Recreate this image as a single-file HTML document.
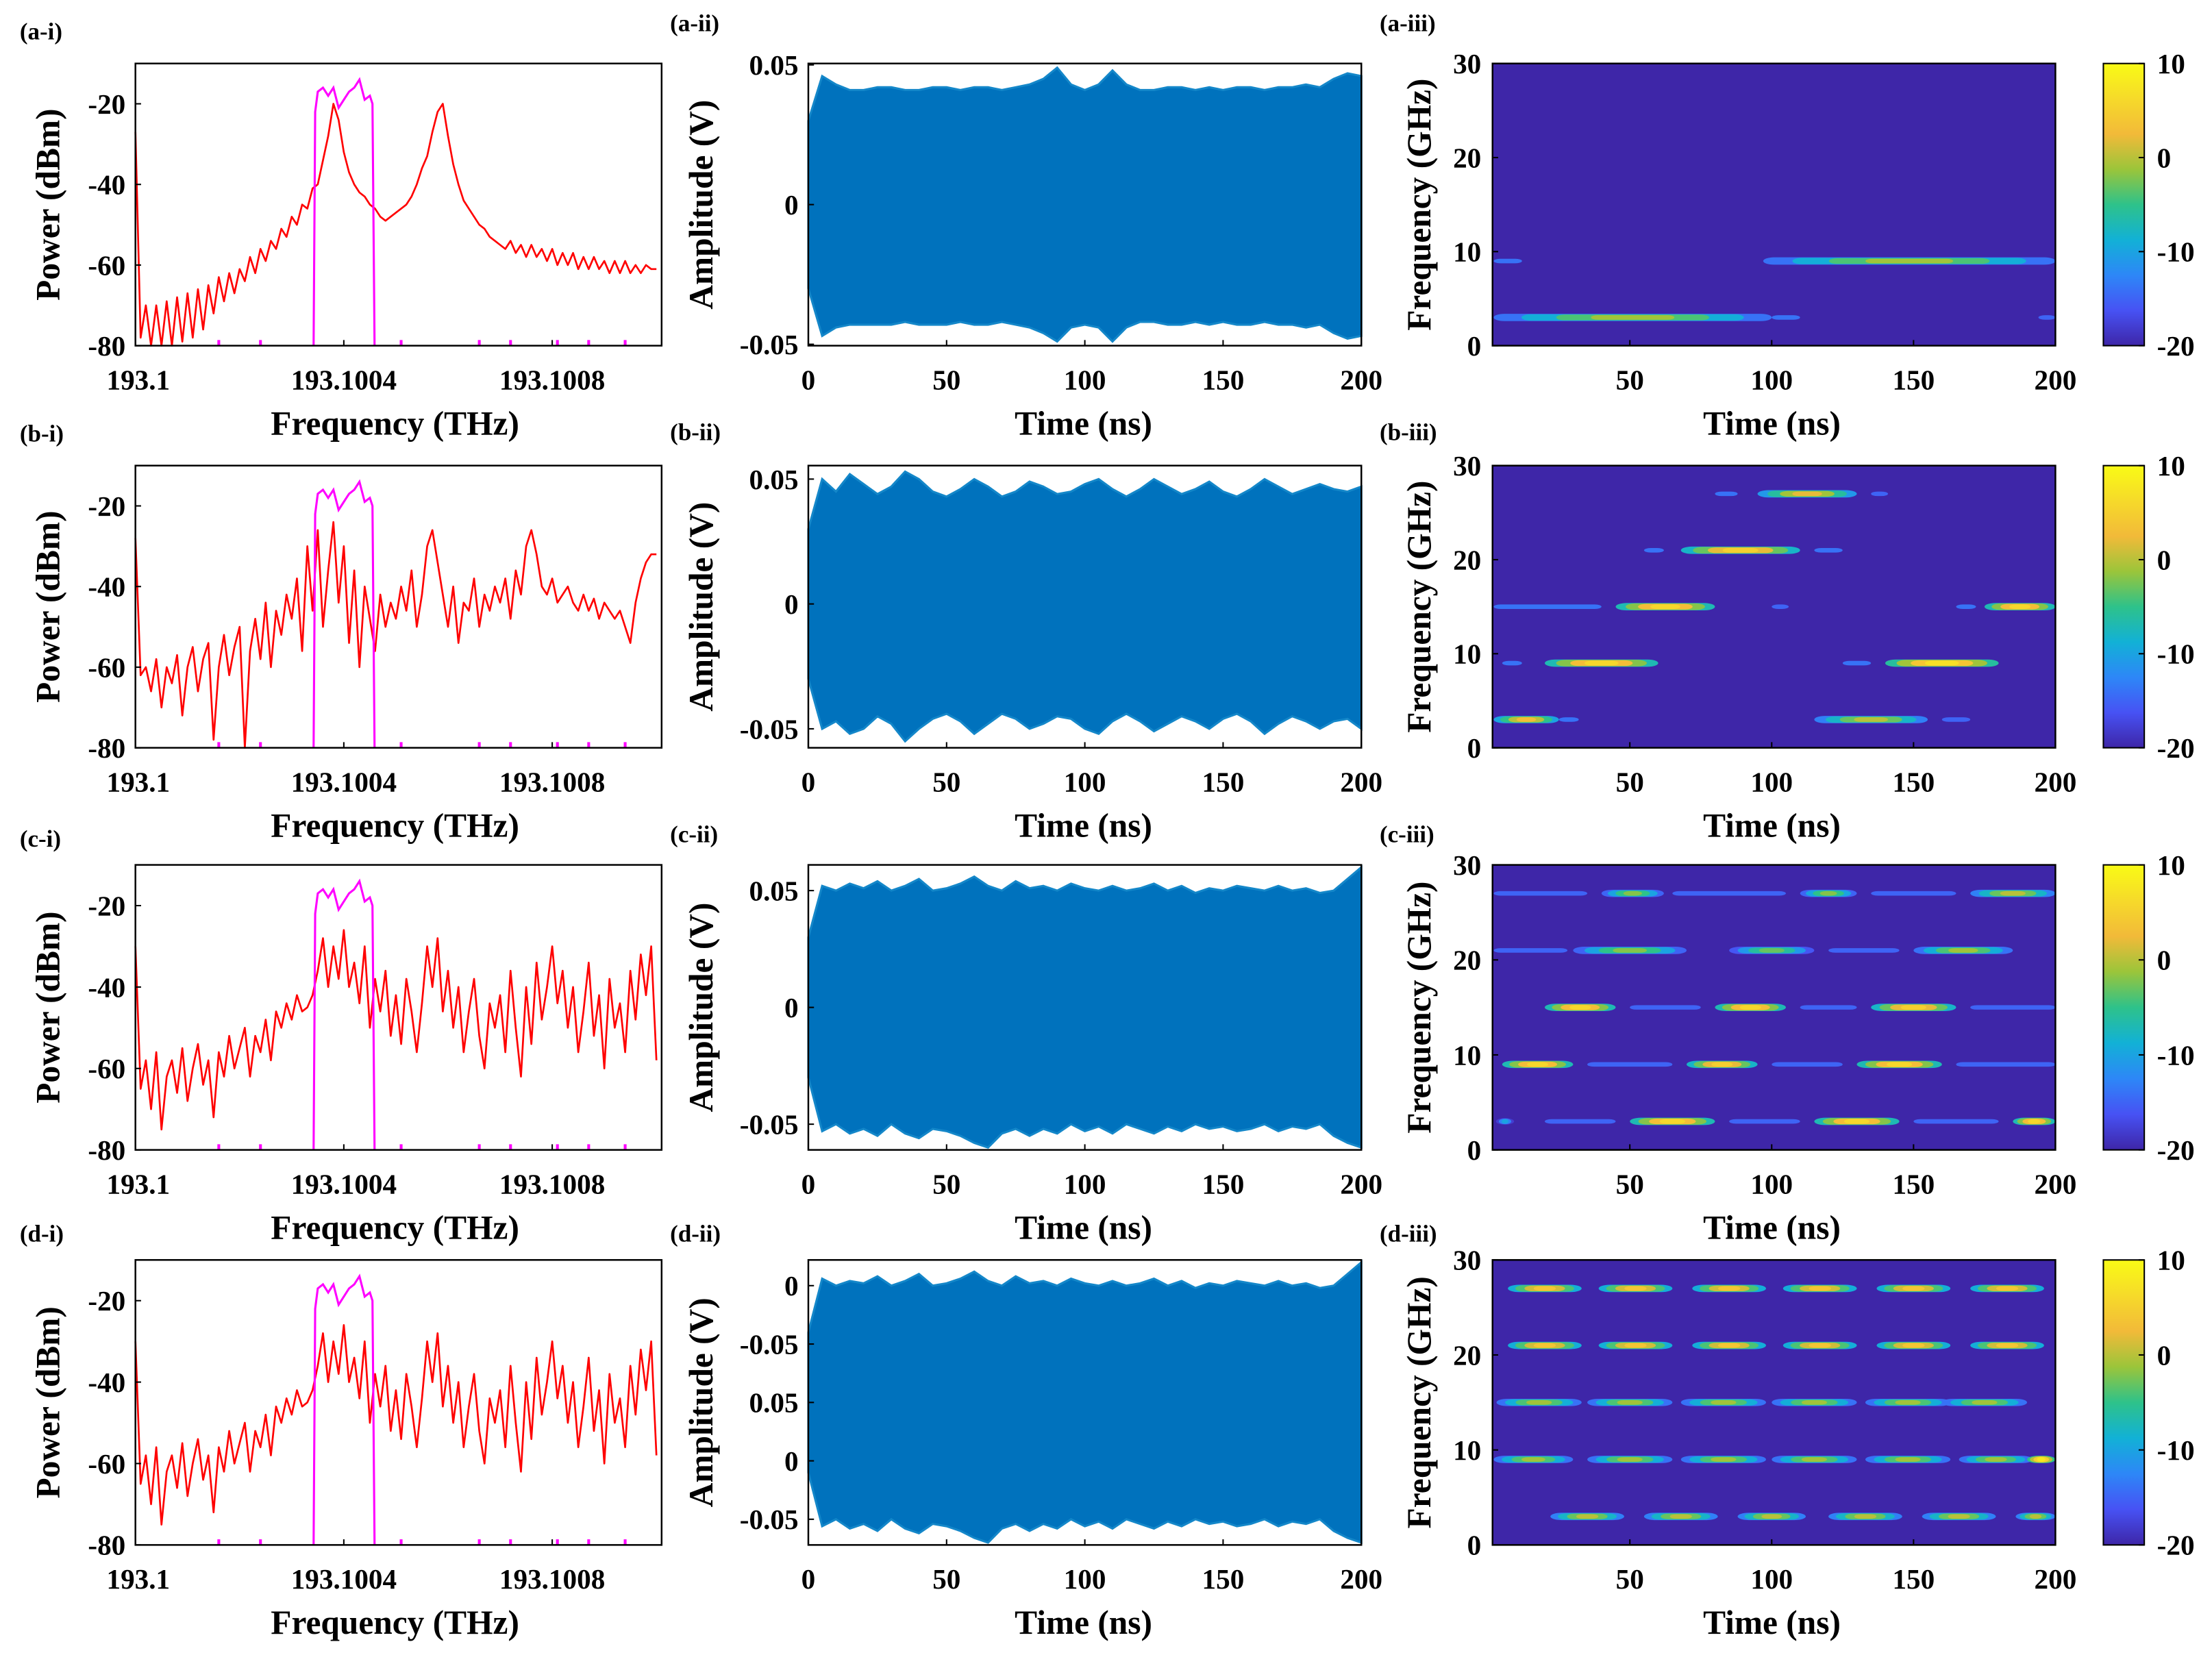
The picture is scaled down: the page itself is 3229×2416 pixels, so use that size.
<!DOCTYPE html>
<html><head><meta charset="utf-8">
<style>
html,body{margin:0;padding:0;background:#fff;}
svg{display:block;}
text{font-family:"Liberation Serif","DejaVu Serif",serif;font-weight:bold;fill:#000;}
</style></head>
<body>
<svg id="fig" xmlns="http://www.w3.org/2000/svg" width="3229" height="2416" viewBox="0 0 1568 1173" preserveAspectRatio="none">
<defs>
<linearGradient id="parulaGrad" x1="0" y1="1" x2="0" y2="0">
<stop offset="0" stop-color="#3E26A8"/><stop offset="0.125" stop-color="#4752F4"/><stop offset="0.25" stop-color="#2D87F7"/><stop offset="0.375" stop-color="#12B1D6"/><stop offset="0.5" stop-color="#2EC28A"/><stop offset="0.625" stop-color="#9BC53A"/><stop offset="0.75" stop-color="#F2BA39"/><stop offset="0.875" stop-color="#F6DA2A"/><stop offset="1" stop-color="#F9FB15"/>
</linearGradient>
</defs>
</svg>
<script>
// ---------- DATA ----------
const specFreqStart = 193.1, specFreqStep = 0.00001;
const specPowA = [-27,-78,-70,-80,-70,-80,-69,-80,-68,-79,-67,-78,-66,-76,-65,-72,-63,-69,-62,-67,-61,-64,-58,-62,-56,-59,-54,-56,-51,-53,-48,-50,-45,-46,-41,-40,-34,-28,-20,-24,-32,-37,-40,-42,-43,-45,-46,-48,-49,-48,-47,-46,-45,-43,-40,-36,-33,-27,-22,-20,-28,-35,-40,-44,-46,-48,-50,-51,-53,-54,-55,-56,-54,-57,-55,-58,-55,-58,-56,-59,-56,-60,-57,-60,-57,-61,-58,-61,-58,-61,-59,-62,-59,-62,-59,-62,-60,-62,-60,-61,-61];
const specPowB = [-28,-62,-60,-66,-58,-70,-60,-64,-57,-72,-60,-55,-66,-58,-54,-78,-60,-52,-62,-55,-50,-80,-56,-48,-58,-44,-60,-46,-52,-42,-48,-38,-56,-30,-46,-26,-50,-36,-24,-44,-30,-54,-36,-60,-40,-48,-56,-42,-50,-44,-48,-40,-46,-36,-50,-42,-30,-26,-34,-42,-50,-40,-54,-44,-46,-38,-50,-42,-46,-40,-44,-38,-48,-36,-42,-30,-26,-32,-40,-42,-38,-44,-42,-40,-44,-46,-42,-46,-43,-48,-44,-46,-48,-46,-50,-54,-44,-38,-34,-32,-32];
const specPowC = [-30,-65,-58,-70,-56,-75,-62,-58,-66,-55,-68,-60,-54,-64,-58,-72,-56,-62,-52,-60,-55,-50,-62,-52,-56,-48,-58,-46,-50,-44,-48,-42,-46,-45,-42,-36,-28,-40,-30,-38,-26,-40,-34,-44,-30,-50,-38,-46,-36,-52,-42,-54,-38,-46,-56,-44,-30,-40,-28,-46,-36,-50,-40,-56,-46,-38,-52,-60,-44,-50,-42,-56,-36,-50,-62,-40,-54,-34,-48,-40,-30,-44,-36,-50,-40,-56,-46,-34,-52,-42,-60,-38,-50,-44,-56,-36,-48,-32,-42,-30,-58];
const specPowD = [-30,-65,-58,-70,-56,-75,-62,-58,-66,-55,-68,-60,-54,-64,-58,-72,-56,-62,-52,-60,-55,-50,-62,-52,-56,-48,-58,-46,-50,-44,-48,-42,-46,-45,-42,-36,-28,-40,-30,-38,-26,-40,-34,-44,-30,-50,-38,-46,-36,-52,-42,-54,-38,-46,-56,-44,-30,-40,-28,-46,-36,-50,-40,-56,-46,-38,-52,-60,-44,-50,-42,-56,-36,-50,-62,-40,-54,-34,-48,-40,-30,-44,-36,-50,-40,-56,-46,-34,-52,-42,-60,-38,-50,-44,-56,-36,-48,-32,-42,-30,-58];
const filterFreq = [193.100342,193.100345,193.10035,193.10036,193.10037,193.10038,193.10039,193.1004,193.10041,193.10042,193.10043,193.10044,193.10045,193.100455,193.100459];
const filterPow = [-80,-22,-17,-16,-18,-16,-21,-19,-17,-16,-14,-19,-18,-20,-80];
const markerFreq = [193.10016,193.10024,193.10051,193.10066,193.10072,193.10081,193.10087,193.10094];
const specXTicks = [193.1,193.1004,193.1008];
const specXTickLabels = ["193.1","193.1004","193.1008"];
const specYTicks = [-80,-60,-40,-20];

const waveTimeStep = 5;
const waveUpA = [0.03,0.046,0.043,0.041,0.041,0.042,0.042,0.041,0.041,0.042,0.042,0.041,0.042,0.042,0.041,0.042,0.043,0.045,0.049,0.043,0.041,0.043,0.048,0.043,0.041,0.041,0.042,0.042,0.041,0.042,0.041,0.042,0.042,0.041,0.042,0.042,0.043,0.042,0.045,0.047,0.046];
const waveLoA = [-0.03,-0.047,-0.044,-0.043,-0.043,-0.043,-0.043,-0.042,-0.043,-0.043,-0.043,-0.042,-0.043,-0.043,-0.042,-0.043,-0.044,-0.046,-0.049,-0.044,-0.043,-0.044,-0.049,-0.044,-0.042,-0.042,-0.043,-0.043,-0.042,-0.043,-0.042,-0.043,-0.043,-0.042,-0.043,-0.043,-0.044,-0.043,-0.046,-0.048,-0.047];
const waveUpB = [0.03,0.05,0.045,0.052,0.048,0.044,0.047,0.053,0.05,0.045,0.043,0.046,0.05,0.047,0.043,0.045,0.049,0.047,0.044,0.045,0.048,0.05,0.046,0.043,0.046,0.05,0.047,0.044,0.046,0.049,0.045,0.043,0.046,0.05,0.047,0.044,0.046,0.048,0.046,0.045,0.047];
const waveLoB = [-0.03,-0.05,-0.047,-0.052,-0.05,-0.045,-0.048,-0.055,-0.05,-0.046,-0.044,-0.047,-0.052,-0.048,-0.044,-0.046,-0.05,-0.048,-0.045,-0.046,-0.05,-0.052,-0.047,-0.044,-0.047,-0.051,-0.048,-0.045,-0.047,-0.05,-0.046,-0.044,-0.047,-0.052,-0.048,-0.045,-0.047,-0.05,-0.047,-0.046,-0.05];
const waveUpC = [0.03,0.052,0.05,0.053,0.051,0.054,0.05,0.052,0.055,0.05,0.051,0.053,0.056,0.052,0.05,0.054,0.051,0.052,0.05,0.053,0.051,0.05,0.052,0.05,0.051,0.053,0.05,0.052,0.049,0.051,0.05,0.052,0.051,0.05,0.052,0.05,0.051,0.049,0.05,0.055,0.06];
const waveLoC = [-0.03,-0.053,-0.05,-0.054,-0.052,-0.055,-0.05,-0.054,-0.056,-0.052,-0.053,-0.055,-0.058,-0.06,-0.054,-0.052,-0.055,-0.052,-0.054,-0.05,-0.053,-0.051,-0.054,-0.05,-0.052,-0.054,-0.051,-0.053,-0.05,-0.052,-0.051,-0.053,-0.052,-0.05,-0.053,-0.051,-0.052,-0.05,-0.055,-0.058,-0.06];
const waveUpD = [0.03,0.053,0.05,0.052,0.051,0.054,0.05,0.052,0.055,0.05,0.051,0.053,0.056,0.052,0.05,0.054,0.051,0.052,0.05,0.053,0.051,0.05,0.052,0.05,0.051,0.053,0.05,0.052,0.049,0.051,0.05,0.052,0.051,0.05,0.052,0.05,0.051,0.049,0.05,0.055,0.06];
const waveLoD = [-0.03,-0.053,-0.05,-0.054,-0.052,-0.055,-0.05,-0.054,-0.056,-0.052,-0.053,-0.055,-0.058,-0.06,-0.054,-0.052,-0.055,-0.052,-0.054,-0.05,-0.053,-0.051,-0.054,-0.05,-0.052,-0.054,-0.051,-0.053,-0.05,-0.052,-0.051,-0.053,-0.052,-0.05,-0.053,-0.051,-0.052,-0.05,-0.055,-0.058,-0.06];
const waveXTicks = [0,50,100,150,200];
const waveYTicksABC = [0.05,0,-0.05];
const waveYTickLabelsABC = ["0.05","0","-0.05"];
const waveYTicksD = [0.05,0.025,0,-0.025,-0.05];
const waveYTickLabelsD = ["0","-0.05","0.05","0","-0.05"];

// spectrogram segments: start (ns), end (ns), frequency (GHz), peak (dB)
const sgStartA = [2,100,97,2,194];
const sgEndA   = [100,110,200,12,200];
const sgFreqA  = [3,3,9,9,3];
const sgPeakA  = [-1,-14,-1,-14,-15];
const sgStartB = [2,25,115,160,20,5,140,125,45,2,100,175,165,68,55,115,95,80,135];
const sgEndB   = [25,32,155,170,60,12,180,135,80,40,106,200,172,110,62,125,130,88,141];
const sgFreqB  = [3,3,3,3,9,9,9,9,15,15,15,15,15,21,21,21,27,27,27];
const sgPeakB  = [3,-14,0,-15,6,-14,7,-14,6,-14,-15,6,-14,5,-14,-14,2,-14,-15];
const sgStartC = [40,110,170,2,65,135,30,85,150,2,120,20,80,135,50,110,170,5,70,130,35,100,165,50,115,185,2,20,85,150];
const sgEndC   = [62,130,200,35,105,165,70,115,185,28,145,45,105,165,75,130,200,30,95,160,65,125,200,80,145,200,10,45,110,180];
const sgFreqC  = [27,27,27,27,27,27,21,21,21,21,21,15,15,15,15,15,15,9,9,9,9,9,9,3,3,3,3,3,3,3];
const sgPeakC  = [-2,-2,0,-15,-15,-15,-2,-3,-1,-15,-15,6,6,5,-15,-15,-15,6,5,6,-15,-15,-15,6,6,6,-10,-15,-15,-15];
const sgStartD = [7,39,72,104,137,170,7,39,72,104,137,170,3,35,68,100,133,160,2,35,68,100,133,166,190,22,55,88,120,153,186];
const sgEndD   = [33,65,98,130,163,196,33,65,98,130,163,196,33,65,98,130,163,190,30,65,98,130,163,192,200,48,81,112,146,179,200];
const sgFreqD  = [27,27,27,27,27,27,21,21,21,21,21,21,15,15,15,15,15,15,9,9,9,9,9,9,9,3,3,3,3,3,3];
const sgPeakD  = [4,4,4,4,4,4,4,4,4,4,4,4,-1,-1,-1,-1,-1,-1,-1,-1,-1,-1,-1,-1,8,0,0,0,0,0,0];
const sgXTicks = [50,100,150,200];
const sgYTicks = [0,10,20,30];
const cbTicks = [10,0,-10,-20];

// ---------- LAYOUT ----------
const NS = "http://www.w3.org/2000/svg";
const svg = document.getElementById('fig');
const rowsY = [[45,245],[330,530],[613,815],[893,1095]];
const colI = [96,469], colII = [573,965], colIII = [1058,1457], cbX = [1491,1520];
const rowLetters = ['a','b','c','d'];
const sc = (v,d,r)=> r[0] + (v-d[0])/(d[1]-d[0])*(r[1]-r[0]);
const TICK = 20, TITLE = 24;

function el(tag, attrs, parent){
  const e = document.createElementNS(NS, tag);
  for (const k in attrs) e.setAttribute(k, attrs[k]);
  (parent||svg).appendChild(e);
  return e;
}
function txt(s, x, y, size, anchor, parent, rot){
  const t = el('text', {x:x, y:y, 'font-size':size, 'text-anchor':anchor||'middle'}, parent);
  if (rot) t.setAttribute('transform', `rotate(-90 ${x} ${y})`);
  t.textContent = s;
  return t;
}
function box(x0,x1,y0,y1,parent){
  const r = el('rect',{x:x0,y:y0,width:x1-x0,height:y1-y0,fill:'none',stroke:'#000','stroke-width':1.2},parent);
  
  
}

const cmStops = [[62,38,168],[71,82,244],[45,135,247],[18,177,214],[46,194,138],[155,197,58],[242,186,57],[246,218,42],[249,251,21]];
function cmap(v){
  let u = Math.max(0,Math.min(1,(v+20)/30))*(cmStops.length-1);
  const i = Math.min(cmStops.length-2, Math.floor(u)); const f = u-i;
  const c = cmStops[i].map((a,k)=>Math.round(a+(cmStops[i+1][k]-a)*f));
  return `rgb(${c[0]},${c[1]},${c[2]})`;
}

const specSets = [specPowA,specPowB,specPowC,specPowD];
const waveUps = [waveUpA,waveUpB,waveUpC,waveUpD];
const waveLos = [waveLoA,waveLoB,waveLoC,waveLoD];
const waveDomains = [[-0.0505,0.0505],[-0.0576,0.0554],[-0.061,0.061],[-0.061,0.061]];
const sgS=[sgStartA,sgStartB,sgStartC,sgStartD], sgE=[sgEndA,sgEndB,sgEndC,sgEndD], sgF=[sgFreqA,sgFreqB,sgFreqC,sgFreqD], sgP=[sgPeakA,sgPeakB,sgPeakC,sgPeakD];
const panelLabelY = [[28,22,22],[313,312,312],[600,597,597],[880,880,880]];

rowsY.forEach((ry, r)=>{
  const [y0,y1] = ry;
  const L = rowLetters[r];

  // ---- column i: spectrum ----
  const gI = el('g',{});
  
  
  const xd = [193.1, 193.10101], yd = [-80,-10];
  const pw = specSets[r];
  let d = pw.map((p,i)=>`${i?'L':'M'}${sc(specFreqStart+i*specFreqStep,xd,colI).toFixed(2)},${sc(p,yd,[y1,y0]).toFixed(2)}`).join('');
  const red = el('path',{d:d,fill:'none',stroke:'#FF0000','stroke-width':1.3,'stroke-linejoin':'round'},gI);
  
  
  d = filterFreq.map((f,i)=>`${i?'L':'M'}${sc(f,xd,colI).toFixed(2)},${sc(filterPow[i],yd,[y1,y0]).toFixed(2)}`).join('');
  const mg = el('path',{d:d,fill:'none',stroke:'#FF00FF','stroke-width':1.5},gI);
  
  
  markerFreq.forEach(f=>{
    const m = el('line',{x1:sc(f,xd,colI),x2:sc(f,xd,colI),y1:y1,y2:y1-4,stroke:'#FF00FF','stroke-width':2},gI);
    
    
  });
  box(colI[0],colI[1],y0,y1,gI);
  specXTicks.forEach((t,i)=>{
    const x = sc(t,xd,colI);
    el('line',{x1:x,x2:x,y1:y1,y2:y1-4,stroke:'#000'},gI);
    const tl = txt(specXTickLabels[i], i===0?x+2:x, y1+31, TICK, 'middle', gI);
    
    
  });
  specYTicks.forEach(t=>{
    const y = sc(t,yd,[y1,y0]);
    el('line',{x1:colI[0],x2:colI[0]+4,y1:y,y2:y,stroke:'#000'},gI);
    const tl = txt(String(t), colI[0]-7, y+7, TICK, 'end', gI);
    
    
  });
  const xt = txt('Frequency (THz)', 280, y1+63, TITLE, 'middle', gI);
  
  
  const yt = txt('Power (dBm)', 42, (y0+y1)/2, TITLE, 'middle', gI, true);
  
  
  const pl = txt(`(${L}-i)`, 14, panelLabelY[r][0], 17, 'start', gI);
  
  

  // ---- column ii: waveform ----
  const gW = el('g',{});
  
  
  const td = [0,200], wd = waveDomains[r];
  const up = waveUps[r], lo = waveLos[r];
  let pts = up.map((v,i)=>`${sc(i*waveTimeStep,td,colII).toFixed(2)},${sc(v,wd,[y1,y0]).toFixed(2)}`);
  let pts2 = lo.map((v,i)=>`${sc(i*waveTimeStep,td,colII).toFixed(2)},${sc(v,wd,[y1,y0]).toFixed(2)}`).reverse();
  const wave = el('polygon',{points:pts.concat(pts2).join(' '),fill:'#0072BD',stroke:'#1487C9','stroke-width':1.5},gW);
  
  
  box(colII[0],colII[1],y0,y1,gW);
  waveXTicks.forEach(t=>{
    const x = sc(t,td,colII);
    el('line',{x1:x,x2:x,y1:y1,y2:y1-4,stroke:'#000'},gW);
    const tl = txt(String(t), x, y1+31, TICK, 'middle', gW);
    
    
  });
  const yT = r===3 ? waveYTicksD : waveYTicksABC;
  const yL = r===3 ? waveYTickLabelsD : waveYTickLabelsABC;
  yT.forEach((t,i)=>{
    const y = sc(t,wd,[y1,y0]);
    el('line',{x1:colII[0],x2:colII[0]+4,y1:y,y2:y,stroke:'#000'},gW);
    const tl = txt(yL[i], colII[0]-7, y+7, TICK, 'end', gW);
    
    
  });
  const xt2 = txt('Time (ns)', 768, y1+63, TITLE, 'middle', gW);
  
  
  const yt2 = txt('Amplitude (V)', 505, (y0+y1)/2, TITLE, 'middle', gW, true);
  
  
  const pl2 = txt(`(${L}-ii)`, 475, panelLabelY[r][1], 17, 'start', gW);
  
  

  // ---- column iii: spectrogram ----
  const gS = el('g',{});
  
  
  const sx = [1.6,200], sy = [0,30];
  const bg = el('rect',{x:colIII[0],y:y0,width:colIII[1]-colIII[0],height:y1-y0,fill:cmap(-20)},gS);
  
  
  sgS[r].forEach((s,i)=>{
    const e = sgE[r][i], f = sgF[r][i], p = sgP[r][i];
    const xa = sc(Math.max(s,1.6),sx,colIII), xb = sc(e,sx,colIII);
    const y = sc(f,sy,[y1,y0]);
    const w = xb-xa, cx = (xa+xb)/2;
    const layers = p < -10 ? [[1,1.6,p]] : [[1,2.6,p-13],[0.8,2.3,p-8],[0.55,2,p-3],[0.3,1.6,p]];
    const seg = el('g',{},gS);
    
    
    layers.forEach(([k,h,v])=>{
      el('rect',{x:cx-w*k/2,y:y-h,width:w*k,height:2*h,rx:Math.min(w*k/2,h*3),ry:h,fill:cmap(v)},seg);
    });
  });
  box(colIII[0],colIII[1],y0,y1,gS);
  sgXTicks.forEach(t=>{
    const x = sc(t,sx,colIII);
    el('line',{x1:x,x2:x,y1:y1,y2:y1-4,stroke:'#000'},gS);
    const tl = txt(String(t), x, y1+31, TICK, 'middle', gS);
    
    
  });
  sgYTicks.forEach(t=>{
    const y = sc(t,sy,[y1,y0]);
    el('line',{x1:colIII[0],x2:colIII[0]+4,y1:y,y2:y,stroke:'#000'},gS);
    const tl = txt(String(t), colIII[0]-8, y+7, TICK, 'end', gS);
    
    
  });
  const xt3 = txt('Time (ns)', 1256, y1+63, TITLE, 'middle', gS);
  
  
  const yt3 = txt('Frequency (GHz)', 1014, (y0+y1)/2, TITLE, 'middle', gS, true);
  
  
  const pl3 = txt(`(${L}-iii)`, 978, panelLabelY[r][2], 17, 'start', gS);
  
  

  // colorbar
  const gC = el('g',{});
  
  
  el('rect',{x:cbX[0],y:y0,width:cbX[1]-cbX[0],height:y1-y0,fill:'url(#parulaGrad)',stroke:'#000','stroke-width':1},gC);
  cbTicks.forEach(t=>{
    const y = sc(t,[-20,10],[y1,y0]);
    el('line',{x1:cbX[1],x2:cbX[1]-4,y1:y,y2:y,stroke:'#000'},gC);
    const tl = txt(String(t), cbX[1]+9, y+7, TICK, 'start', gC);
    
    
  });
});
</script>
</body></html>
